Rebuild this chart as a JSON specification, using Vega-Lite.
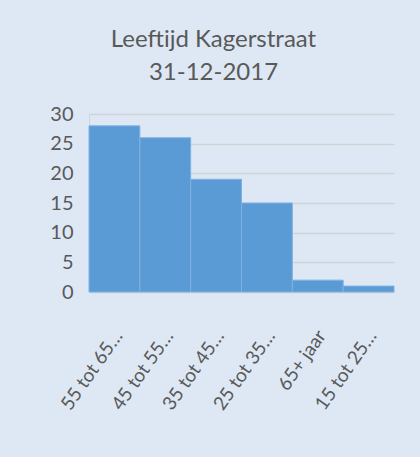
{
  "$schema": "https://vega.github.io/schema/vega-lite/v6.json",
  "width": 305,
  "height": 178,
  "autosize": {"type": "none"},
  "padding": {"left": 89, "top": 114, "right": 26, "bottom": 165},
  "background": "#dee8f5",
  "title": {
    "text": ["Leeftijd Kagerstraat", "31-12-2017"],
    "anchor": "middle",
    "frame": "group",
    "dx": -28,
    "offset": 19,
    "font": "Lato",
    "fontSize": 24,
    "fontWeight": "normal",
    "color": "#595959",
    "lineHeight": 33
  },
  "data": {
    "values": [
      {"leeftijd": "55 tot 65…", "aantal": 28},
      {"leeftijd": "45 tot 55…", "aantal": 26},
      {"leeftijd": "35 tot 45…", "aantal": 19},
      {"leeftijd": "25 tot 35…", "aantal": 15},
      {"leeftijd": "65+ jaar", "aantal": 2},
      {"leeftijd": "15 tot 25…", "aantal": 1}
    ]
  },
  "mark": {"type": "bar", "fill": "#5b9bd5", "stroke": "#7fb1e0", "strokeWidth": 1},
  "encoding": {
    "x": {
      "field": "leeftijd",
      "type": "nominal",
      "sort": null,
      "scale": {"paddingInner": 0, "paddingOuter": 0},
      "axis": {
        "title": null,
        "labelAngle": -55,
        "labelAlign": "right",
        "labelBaseline": "middle",
        "labelPadding": 40,
        "labelOffset": 4,
        "labelFont": "Lato",
        "labelFontSize": 19,
        "labelColor": "#595959",
        "ticks": false,
        "domainColor": "#d0d4d8",
        "labelLimit": 200
      }
    },
    "y": {
      "field": "aantal",
      "type": "quantitative",
      "scale": {"domain": [0, 30]},
      "axis": {
        "title": null,
        "values": [0, 5, 10, 15, 20, 25, 30],
        "labelFont": "Lato",
        "labelFontSize": 20,
        "labelColor": "#595959",
        "labelPadding": 16,
        "ticks": false,
        "domain": true,
        "domainColor": "#d0d4d8",
        "gridColor": "#d0d4d8",
        "gridWidth": 1.5
      }
    }
  },
  "config": {"view": {"stroke": null}}
}
